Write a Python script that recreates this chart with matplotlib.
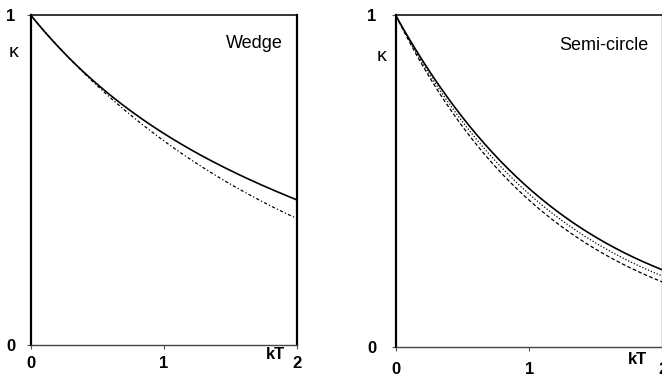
import matplotlib
matplotlib.use("Agg")
import matplotlib.pyplot as plt
import numpy as np

plt.rcParams['font.family'] = ['Liberation Sans', 'DejaVu Sans']

# kT grid shared by all curves
kT = [0.0, 0.25, 0.5, 0.75, 1.0, 1.25, 1.5, 1.75, 2.0]

# Wedge panel
wedge_solid = [1.0, 0.887, 0.790, 0.709, 0.640, 0.582, 0.528, 0.481, 0.439]
wedge_dotted = [1.0, 0.886, 0.786, 0.697, 0.618, 0.548, 0.487, 0.432, 0.382]

# Semi-circle panel
semi_solid = [1.0, 0.832, 0.692, 0.575, 0.478, 0.397, 0.330, 0.276, 0.232]
semi_dotted = [1.0, 0.824, 0.679, 0.559, 0.461, 0.379, 0.313, 0.258, 0.213]
semi_dashed = [1.0, 0.815, 0.665, 0.542, 0.442, 0.360, 0.294, 0.240, 0.195]

xticks = [0, 1, 2]
yticks = [0, 1]

fig = plt.figure(figsize=(6.62, 3.77), dpi=100)
ax1 = fig.add_axes([0.0461, 0.0862, 0.4025, 0.874])
ax2 = fig.add_axes([0.598, 0.0804, 0.4029, 0.8785])

x1 = np.array(kT)


def smooth(x, y):
    # smooth curve through the read points (cubic fit in log space)
    xs = np.linspace(x[0], x[-1], 200)
    coef = np.polyfit(x, np.log(y), 3)
    return xs, np.exp(np.polyval(coef, xs))


for ax in (ax1, ax2):
    ax.set_xlim(0, 2)
    ax.set_ylim(0, 1)
    ax.set_xticks(xticks)
    ax.set_yticks(yticks)
    ax.set_xticklabels([str(t) for t in xticks], fontsize=12, fontweight='bold')
    ax.set_yticklabels([str(t) for t in yticks], fontsize=12, fontweight='bold')
    ax.tick_params(axis='both', length=3, width=0.8, color='#555555')
    ax.spines['left'].set_linewidth(1.6)
    ax.spines['bottom'].set_linewidth(1.0)
    ax.spines['bottom'].set_color('#444444')
    ax.spines['top'].set_linewidth(1.1)
    ax.spines['right'].set_linewidth(1.6)

ax1.tick_params(axis='x', pad=5)
ax1.tick_params(axis='y', pad=8)
ax2.tick_params(axis='x', pad=8)
ax2.tick_params(axis='y', pad=11)

ax1.text(-0.065, 0.885, 'κ', transform=ax1.transAxes, fontsize=14,
         ha='center', va='center')
ax2.text(-0.055, 0.875, 'κ', transform=ax2.transAxes, fontsize=14,
         ha='center', va='center')

# left panel
xs, ys = smooth(x1, wedge_solid)
ax1.plot(xs, ys, color='black', lw=1.2)
xs, ys = smooth(x1, wedge_dotted)
ax1.plot(xs, ys, color='black', lw=0.9, dashes=(2.5, 1.8, 1, 1.8))
ax1.text(0.84, 0.915, 'Wedge', transform=ax1.transAxes, fontsize=13,
         ha='center', va='center')
ax1.text(1.835, -0.03, 'kT', transform=ax1.get_xaxis_transform(),
         fontsize=12, fontweight='bold', ha='center', va='center')

# right panel
xs, ys = smooth(x1, semi_solid)
ax2.plot(xs, ys, color='black', lw=1.2)
xs, ys = smooth(x1, semi_dotted)
ax2.plot(xs, ys, color='black', lw=0.9, dashes=(1, 1.5))
xs, ys = smooth(x1, semi_dashed)
ax2.plot(xs, ys, color='black', lw=0.9, dashes=(3, 1.8))
ax2.text(0.78, 0.91, 'Semi-circle', transform=ax2.transAxes, fontsize=13,
         ha='center', va='center')
ax2.text(1.815, -0.04, 'kT', transform=ax2.get_xaxis_transform(),
         fontsize=12, fontweight='bold', ha='center', va='center')

fig.savefig('out.png', dpi=100)
